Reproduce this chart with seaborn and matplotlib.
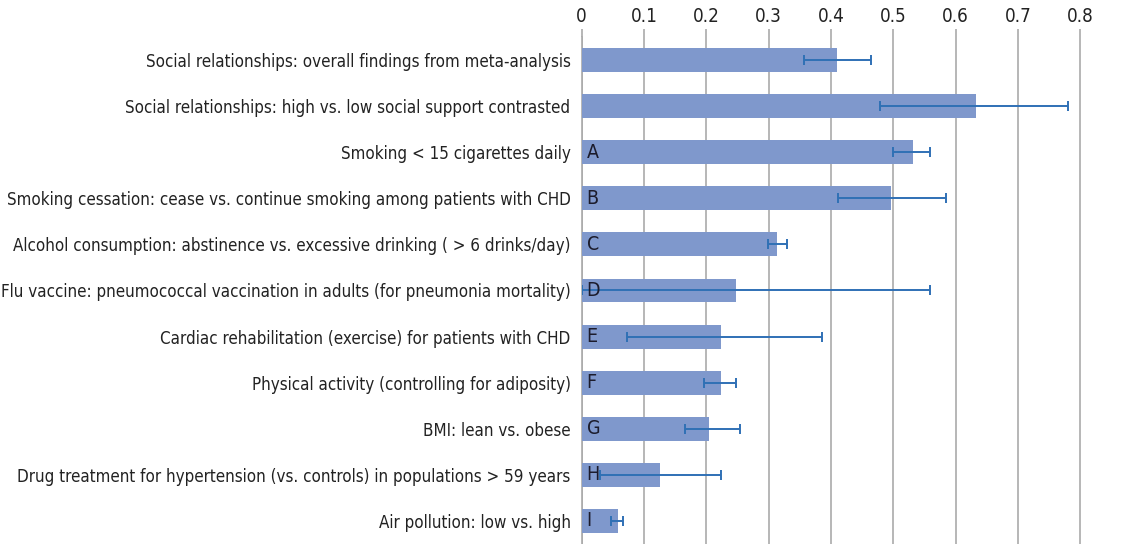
import numpy as np
import pandas as pd
import seaborn as sns
import matplotlib.pyplot as plt

labels = [
    "Social relationships: overall findings from meta-analysis",
    "Social relationships: high vs. low social support contrasted",
    "Smoking < 15 cigarettes daily",
    "Smoking cessation: cease vs. continue smoking among patients with CHD",
    "Alcohol consumption: abstinence vs. excessive drinking ( > 6 drinks/day)",
    "Flu vaccine: pneumococcal vaccination in adults (for pneumonia mortality)",
    "Cardiac rehabilitation (exercise) for patients with CHD",
    "Physical activity (controlling for adiposity)",
    "BMI: lean vs. obese",
    "Drug treatment for hypertension (vs. controls) in populations > 59 years",
    "Air pollution: low vs. high",
]
letters = ["", "", "A", "B", "C", "D", "E", "F", "G", "H", "I"]
effect = [0.409, 0.633, 0.532, 0.497, 0.314, 0.247, 0.223, 0.223, 0.205, 0.126, 0.058]
ci_low = [0.356, 0.479, 0.499, 0.412, 0.299, 0.0, 0.073, 0.197, 0.165, 0.029, 0.047]
ci_high = [0.465, 0.780, 0.559, 0.584, 0.329, 0.559, 0.385, 0.247, 0.254, 0.223, 0.067]
x_ticks = [0, 0.1, 0.2, 0.3, 0.4, 0.5, 0.6, 0.7, 0.8]

sns.set_style("white")
# narrow face, closest to the condensed type of the original
plt.rcParams["font.family"] = ["DejaVu Sans"]
plt.rcParams["font.stretch"] = "condensed"

df = pd.DataFrame({"label": labels, "effect": effect})

fig = plt.figure(figsize=(11.44, 5.44), dpi=100)
ax = fig.add_axes([0.5085, 0.0, 0.436, 0.932])

sns.barplot(data=df, x="effect", y="label", orient="h", color="#7f98cc",
            saturation=1, width=0.52, linewidth=0, ax=ax, zorder=3)

# asymmetric confidence intervals
y = np.arange(len(labels))
eff = np.array(effect)
xerr = np.vstack([eff - np.array(ci_low), np.array(ci_high) - eff])
ax.errorbar(eff, y, xerr=xerr, fmt="none", ecolor="#2f70b5",
            elinewidth=1.4, capsize=3.5, capthick=1.4, zorder=4)

for i, letter in enumerate(letters):
    if letter:
        ax.text(0.008, i, letter, ha="left", va="center", fontsize=14,
                color="#1c1c2c", zorder=5)

ax.set_xlim(0, 0.8005)
ax.set_ylim(len(labels) - 0.5, -0.5)
ax.set_xticks(x_ticks)
ax.set_xticklabels([f"{t:g}" for t in x_ticks], fontsize=13.5, color="#222222")
ax.xaxis.tick_top()
ax.tick_params(axis="x", length=6, color="#aaaaaa", width=1.2, pad=2)
ax.tick_params(axis="y", length=0, labelsize=12.2, labelcolor="#222222", pad=8)
ax.set_xlabel("")
ax.set_ylabel("")
ax.grid(axis="x", color="#aaaaaa", linewidth=1.2, zorder=0)
ax.set_axisbelow(True)
for side in ["top", "right", "bottom"]:
    ax.spines[side].set_visible(False)
ax.spines["left"].set_color("#aaaaaa")
ax.spines["left"].set_linewidth(1.2)

fig.savefig("out.png", dpi=100)
